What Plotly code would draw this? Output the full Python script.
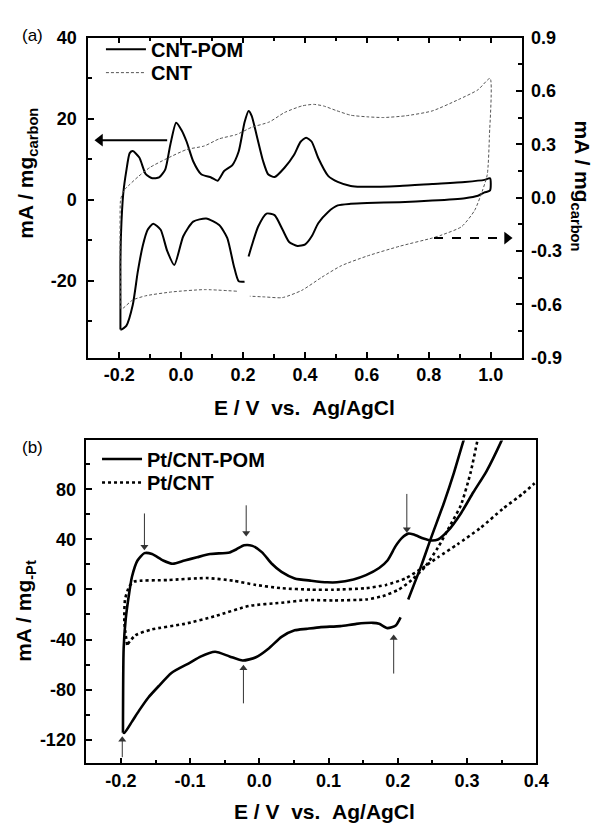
import plotly.graph_objects as go

W, H = 600, 823

# ---------------- Panel (a) data ----------------
cntpom_E = [-0.196, -0.196, -0.194, -0.187, -0.177, -0.166, -0.156, -0.135, -0.114, -0.093,
            -0.071, -0.051, -0.035, -0.016, 0.002, 0.018, 0.039, 0.065, 0.097, 0.118,
            0.139, 0.165, 0.186, 0.205, 0.218, 0.228, 0.244, 0.265, 0.281, 0.302,
            0.334, 0.365, 0.386, 0.404, 0.422, 0.443, 0.475, 0.506, 0.548, 0.580,
            0.706, 0.811, 0.917, 0.980, 0.998, 0.998, 0.980, 0.959, 0.917, 0.811,
            0.706, 0.601, 0.548, 0.506, 0.475, 0.443, 0.422, 0.401, 0.376, 0.349,
            0.328, 0.302, 0.276, 0.249, 0.228, 0.218, None, 0.205, 0.186, 0.170,
            0.149, 0.123, 0.081, 0.039, 0.007, -0.022, -0.045, -0.066, -0.090, -0.108,
            -0.124, -0.140, -0.156, -0.177, -0.193, -0.196]
cntpom_I = [-32.0, -16.2, -8.2, 1.4, 7.1, 11.5, 12.0, 10.4, 6.3, 5.3,
            5.5, 7.5, 13.5, 19.0, 17.1, 14.3, 9.5, 6.3, 5.5, 4.7,
            7.1, 8.5, 11.9, 19.1, 21.9, 20.7, 15.9, 9.5, 6.3, 5.6,
            7.9, 11.1, 14.3, 15.3, 14.3, 10.3, 5.9, 4.4, 3.4, 3.2,
            3.4, 3.9, 4.4, 4.9, 5.3, 2.3, 1.8, 1.0, 0.4, -0.2,
            -0.6, -0.8, -1.0, -1.4, -3.0, -5.8, -9.0, -11.0, -11.4, -10.4,
            -7.4, -3.8, -3.4, -6.6, -11.4, -14.0, None, -20.2, -20.1, -16.2,
            -9.4, -6.2, -4.6, -5.4, -9.0, -16.1, -12.6, -7.4, -5.9, -7.4,
            -11.4, -17.8, -25.9, -31.1, -32.0, -32.0]

cnt_E = [-0.195, -0.197, -0.196, -0.192, -0.185, -0.168, -0.137, -0.100, -0.045, 0.018,
         0.075, 0.123, 0.180, 0.228, 0.285, 0.334, 0.390, 0.428, 0.460, 0.500,
         0.548, 0.601, 0.654, 0.727, 0.811, 0.896, 0.959, 0.998, 0.996, 0.989,
         0.973, 0.948, 0.906, 0.843, 0.811, 0.706, 0.601, 0.517, 0.454, 0.390,
         0.327, 0.270, 0.222, None, 0.180, 0.075, -0.030, -0.115, -0.157, -0.188,
         -0.195]
cnt_V = [-0.625, -0.30, -0.02, 0.01, 0.04, 0.07, 0.12, 0.17, 0.22, 0.27,
         0.29, 0.33, 0.355, 0.395, 0.425, 0.478, 0.515, 0.524, 0.515, 0.49,
         0.463, 0.454, 0.450, 0.460, 0.487, 0.551, 0.606, 0.670, 0.349, 0.129,
         0.037, -0.073, -0.164, -0.210, -0.228, -0.274, -0.329, -0.384, -0.449, -0.522,
         -0.563, -0.559, -0.555, None, -0.527, -0.518, -0.531, -0.553, -0.577, -0.623,
         -0.625]

a_xtick_vals = [-0.2, 0.0, 0.2, 0.4, 0.6, 0.8, 1.0]
a_xtick_text = ["-0.2", "0.0", "0.2", "0.4", "0.6", "0.8", "1.0"]
a_ytick_vals = [-20, 0, 20, 40]
a_ytick_text = ["-20", "0", "20", "40"]
a_y2tick_vals = [-0.9, -0.6, -0.3, 0.0, 0.3, 0.6, 0.9]
a_y2tick_text = ["-0.9", "-0.6", "-0.3", "0.0", "0.3", "0.6", "0.9"]

# ---------------- Panel (b) data ----------------
ptpom_E = [-0.197, -0.196, -0.193, -0.188, -0.184, -0.176, -0.166, -0.155, -0.139, -0.125,
           -0.108, -0.090, -0.071, -0.043, -0.033, -0.022, -0.010, 0.004, 0.018, 0.032,
           0.051, 0.075, 0.098, 0.112, 0.136, 0.154, 0.173, 0.185, 0.197, 0.206,
           0.215, 0.223, 0.237, 0.248, 0.258, 0.272, 0.291, 0.309, 0.328, 0.350,
           0.360, None, 0.305, 0.295, 0.281, 0.267, 0.248, 0.234, 0.215, None,
           0.204, 0.197, 0.185, 0.173, 0.164, 0.140, 0.117, 0.089, 0.068, 0.051,
           0.032, 0.014, -0.005, -0.024, -0.043, -0.064, -0.085, -0.100, -0.127, -0.145,
           -0.160, -0.174, -0.184, -0.195, -0.197]
ptpom_I = [-114.4, -47.0, -23.6, -2.9, 10.1, 23.1, 29.0, 28.3, 23.1, 20.5,
           23.1, 25.7, 28.3, 29.6, 32.1, 35.3, 34.8, 29.6, 20.5, 14.0,
           8.8, 7.0, 5.7, 5.7, 8.0, 11.4, 17.1, 23.1, 34.8, 41.2,
           44.6, 43.8, 40.7, 39.1, 39.9, 46.5, 60.7, 77.6, 94.4, 119.1,
           132.0, None, 135.0, 119.1, 93.1, 69.8, 41.2, 19.2, -8.0, None,
           -22.3, -28.8, -30.9, -27.5, -26.7, -27.5, -29.3, -30.1, -31.5, -32.7,
           -37.9, -46.9, -54.2, -56.8, -53.5, -49.8, -53.7, -58.5, -66.7, -77.0,
           -86.1, -97.0, -105.6, -114.6, -114.4]

ptcnt_E = [-0.191, -0.195, -0.194, -0.188, -0.181, -0.132, -0.076, -0.038, -0.005, 0.032,
           0.075, 0.107, 0.154, 0.183, 0.211, 0.234, 0.258, 0.286, 0.319, 0.352,
           0.380, 0.396, 0.405, None, 0.320, 0.315, 0.305, 0.291, 0.276, 0.258,
           0.239, 0.220, 0.201, 0.178, 0.154, 0.107, 0.070, 0.032, -0.015, -0.062,
           -0.108, -0.155, -0.179, -0.191]
ptcnt_I = [-44.4, -26.2, -8.0, 2.3, 6.2, 7.5, 9.1, 7.0, 3.6, 1.0,
           -0.2, -0.2, 1.0, 3.6, 8.8, 16.6, 25.7, 36.0, 49.0, 64.6,
           76.3, 84.0, 89.0, None, 132.0, 119.1, 93.1, 67.2, 51.6, 33.5,
           17.9, 7.5, -0.2, -5.4, -8.0, -8.8, -8.5, -10.6, -13.2, -21.0,
           -27.5, -31.9, -36.6, -44.4]

b_xtick_vals = [-0.2, -0.1, 0.0, 0.1, 0.2, 0.3, 0.4]
b_xtick_text = ["-0.2", "-0.1", "0.0", "0.1", "0.2", "0.3", "0.4"]
b_ytick_vals = [-120, -80, -40, 0, 40, 80]
b_ytick_text = ["-120", "-80", "-40", "0", "40", "80"]

# peak-marker arrows in (b): (potential, head current, tail current, direction)
b_arrows = [(-0.166, 31.1, 60.7, "down"), (-0.019, 42.0, 67.2, "down"), (0.213, 45.1, 76.3, "down"),
            (-0.023, -59.9, -91.0, "up"), (0.194, -35.8, -67.2, "up"), (-0.198, -117.0, -134.0, "up")]

FONT = "Liberation Sans, Arial, sans-serif"
tickfont = dict(family=FONT, size=18, color="black", weight="bold")


def px(x):
    return x / W


def py(y):
    return 1 - y / H


fig = go.Figure()

fig.add_trace(go.Scatter(x=cntpom_E, y=cntpom_I, name="CNT-POM", mode="lines",
                         line=dict(color="black", width=2, shape="spline", smoothing=0.6),
                         xaxis="x", yaxis="y", legend="legend"))
fig.add_trace(go.Scatter(x=cnt_E, y=cnt_V, name="CNT", mode="lines",
                         line=dict(color="#555555", width=1, dash="3px,2px", shape="spline", smoothing=0.6),
                         xaxis="x", yaxis="y2", legend="legend2"))
fig.add_trace(go.Scatter(x=ptpom_E, y=ptpom_I, name="Pt/CNT-POM", mode="lines",
                         line=dict(color="black", width=2.6, shape="spline", smoothing=0.6),
                         xaxis="x2", yaxis="y3", legend="legend3"))
fig.add_trace(go.Scatter(x=ptcnt_E, y=ptcnt_I, name="Pt/CNT", mode="lines",
                         line=dict(color="black", width=2.6, dash="dot", shape="spline", smoothing=0.6),
                         xaxis="x2", yaxis="y3", legend="legend4"))

# arrows of panel (a): shafts as shapes, heads as triangle markers
fig.add_shape(type="line", xref="x", yref="y", x0=-0.045, x1=-0.262, y0=14.7, y1=14.7,
              line=dict(color="black", width=2))
fig.add_trace(go.Scatter(x=[-0.262], y=[14.7], mode="markers", xaxis="x", yaxis="y",
                         marker=dict(symbol="triangle-left", size=11, color="black"),
                         showlegend=False, hoverinfo="skip"))
fig.add_shape(type="line", xref="x", yref="y2", x0=0.817, x1=1.05, y0=-0.228, y1=-0.228,
              line=dict(color="black", width=2, dash="dash"))
fig.add_trace(go.Scatter(x=[1.053], y=[-0.228], mode="markers", xaxis="x", yaxis="y2",
                         marker=dict(symbol="triangle-right", size=11, color="black"),
                         showlegend=False, hoverinfo="skip"))

# arrows of panel (b)
hx, hy, hs = [], [], []
for xa, yh, yt, d in b_arrows:
    off = 3.0 if d == "down" else -3.0
    fig.add_shape(type="line", xref="x2", yref="y3", x0=xa, x1=xa, y0=yt, y1=yh + off,
                  line=dict(color="#333333", width=1))
    hx.append(xa)
    hy.append(yh + off)
    hs.append("triangle-down" if d == "down" else "triangle-up")
fig.add_trace(go.Scatter(x=hx, y=hy, mode="markers", xaxis="x2", yaxis="y3",
                         marker=dict(symbol=hs, size=7, color="#333333"),
                         showlegend=False, hoverinfo="skip"))

axis_common = dict(showline=True, linecolor="black", linewidth=1.5, ticks="inside",
                   tickcolor="black", tickwidth=1.5, ticklen=6, tickfont=tickfont,
                   showgrid=False, zeroline=False, tickmode="array")
minor_common = dict(ticks="inside", ticklen=4, tickwidth=1.5, tickcolor="black", showgrid=False)
legend_font = dict(family=FONT, size=20, color="black", weight="bold")


def leg(x, y):
    return dict(x=px(x), y=py(y), xanchor="left", yanchor="middle", bgcolor="rgba(0,0,0,0)",
                font=legend_font, tracegroupgap=0, itemwidth=40)


fig.update_layout(
    width=W, height=H, margin=dict(l=0, r=0, t=0, b=0),
    paper_bgcolor="white", plot_bgcolor="white",
    xaxis=dict(domain=[px(82), px(525)], anchor="y", range=[-0.3, 1.1],
               tickvals=a_xtick_vals, ticktext=a_xtick_text, mirror="ticks",
               minor=dict(dtick=0.1, tick0=0, **minor_common), **axis_common),
    yaxis=dict(domain=[py(348), py(20)], anchor="x", range=[-38.9, 40],
               tickvals=a_ytick_vals, ticktext=a_ytick_text, ticklabelstandoff=6,
               minor=dict(dtick=10, tick0=0, **minor_common), **axis_common),
    yaxis2=dict(overlaying="y", side="right", anchor="x", range=[-0.9, 0.9],
                tickvals=a_y2tick_vals, ticktext=a_y2tick_text, ticklabelstandoff=4,
                minor=dict(dtick=0.15, tick0=0, **minor_common), **axis_common),
    xaxis2=dict(domain=[px(80), px(540)], anchor="y3", range=[-0.25, 0.4],
                tickvals=b_xtick_vals, ticktext=b_xtick_text, mirror=True,
                minor=dict(dtick=0.05, tick0=0, **minor_common), **axis_common),
    yaxis3=dict(domain=[py(764), py(433)], anchor="x2", range=[-139, 119],
                tickvals=b_ytick_vals, ticktext=b_ytick_text, mirror=True, ticklabelstandoff=5,
                minor=dict(dtick=20, tick0=0, **minor_common), **axis_common),
    legend=leg(95, 32),
    legend2=leg(95, 56),
    legend3=leg(91, 452),
    legend4=leg(91, 476),
    showlegend=True,
)

title_font = dict(family=FONT, size=21, color="black", weight="bold")
xtitle = "E / V\u00a0\u00a0vs.\u00a0\u00a0Ag/AgCl"
ann = []
ann.append(dict(text="(a)", x=px(12), y=py(18), xref="paper", yref="paper", showarrow=False,
                xanchor="left", yanchor="middle", font=dict(family=FONT, size=17, color="black")))
ann.append(dict(text="(b)", x=px(12), y=py(440), xref="paper", yref="paper", showarrow=False,
                xanchor="left", yanchor="middle", font=dict(family=FONT, size=17, color="black")))
ann.append(dict(text=xtitle, x=px(303), y=py(399), xref="paper", yref="paper",
                showarrow=False, xanchor="center", yanchor="middle", font=title_font))
ann.append(dict(text=xtitle, x=px(323), y=py(813), xref="paper", yref="paper",
                showarrow=False, xanchor="center", yanchor="middle", font=title_font))
ann.append(dict(text="mA / mg<sub>carbon</sub>", x=px(20), y=py(159), xref="paper", yref="paper",
                showarrow=False, textangle=-90, xanchor="center", yanchor="middle", font=title_font))
ann.append(dict(text="mA / mg<sub>carbon</sub>", x=px(586), y=py(172), xref="paper", yref="paper",
                showarrow=False, textangle=90, xanchor="center", yanchor="middle", font=title_font))
ann.append(dict(text="mA / mg<sub>-Pt</sub>", x=px(18), y=py(608), xref="paper", yref="paper",
                showarrow=False, textangle=-90, xanchor="center", yanchor="middle", font=title_font))
fig.update_layout(annotations=ann)

fig.write_html("out.html")
